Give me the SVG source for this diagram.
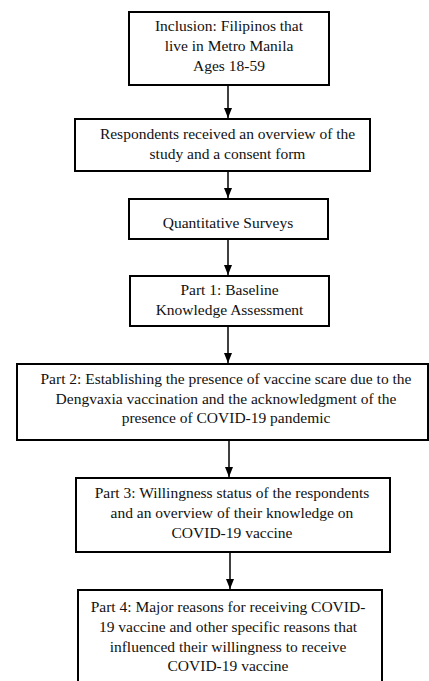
<svg xmlns="http://www.w3.org/2000/svg" width="429" height="681" viewBox="0 0 429 681">
<style>
.box{fill:#fff;stroke:#000;stroke-width:2}
.t{font-family:"Liberation Serif","Times New Roman",serif;font-size:15.5px;fill:#111;text-anchor:middle}
.c{stroke:#000;stroke-width:1.5;fill:none;marker-end:url(#ah)}
</style>
<defs>
<marker id="ah" markerUnits="userSpaceOnUse" markerWidth="10" markerHeight="10" viewBox="0 0 10 10" refX="10" refY="5" orient="auto">
<path d="M0,1 L10,5 L0,9 Z" fill="#000"/>
</marker>
</defs>
<rect width="429" height="681" fill="#fff"/>
<g id="connectors">
<line class="c" x1="228" y1="85" x2="228" y2="118"/>
<line class="c" x1="228" y1="171" x2="228" y2="198"/>
<line class="c" x1="228" y1="239" x2="228" y2="275"/>
<line class="c" x1="228" y1="326" x2="228" y2="363"/>
<line class="c" x1="229" y1="440" x2="229" y2="477"/>
<line class="c" x1="230" y1="552" x2="230" y2="589"/>
</g>
<g id="n1">
<rect class="box" x="129" y="12" width="200" height="73"/>
<text class="t" x="229" y="31">Inclusion: Filipinos that</text>
<text class="t" x="229" y="51">live in Metro Manila</text>
<text class="t" x="229" y="71">Ages 18-59</text>
</g>
<g id="n2">
<rect class="box" x="75" y="119" width="295" height="52"/>
<text class="t" x="227.5" y="139">Respondents received an overview of the</text>
<text class="t" x="227.5" y="159">study and a consent form</text>
</g>
<g id="n3">
<rect class="box" x="129" y="199" width="199" height="40"/>
<text class="t" x="228" y="228">Quantitative Surveys</text>
</g>
<g id="n4">
<rect class="box" x="130" y="276" width="199" height="50"/>
<text class="t" x="229.5" y="295">Part 1: Baseline</text>
<text class="t" x="229.5" y="315">Knowledge Assessment</text>
</g>
<g id="n5">
<rect class="box" x="17" y="364" width="411" height="76"/>
<text class="t" x="226" y="384">Part 2: Establishing the presence of vaccine scare due to the</text>
<text class="t" x="226" y="404">Dengvaxia vaccination and the acknowledgment of the</text>
<text class="t" x="226" y="423">presence of COVID-19 pandemic</text>
</g>
<g id="n6">
<rect class="box" x="76" y="478" width="314" height="74"/>
<text class="t" x="232" y="498">Part 3: Willingness status of the respondents</text>
<text class="t" x="232" y="518">and an overview of their knowledge on</text>
<text class="t" x="232" y="538">COVID-19 vaccine</text>
</g>
<g id="n7">
<rect class="box" x="78" y="590" width="304" height="100"/>
<text class="t" x="228" y="612">Part 4: Major reasons for receiving COVID-</text>
<text class="t" x="228" y="632">19 vaccine and other specific reasons that</text>
<text class="t" x="228" y="652">influenced their willingness to receive</text>
<text class="t" x="228" y="671">COVID-19 vaccine</text>
</g>
</svg>
